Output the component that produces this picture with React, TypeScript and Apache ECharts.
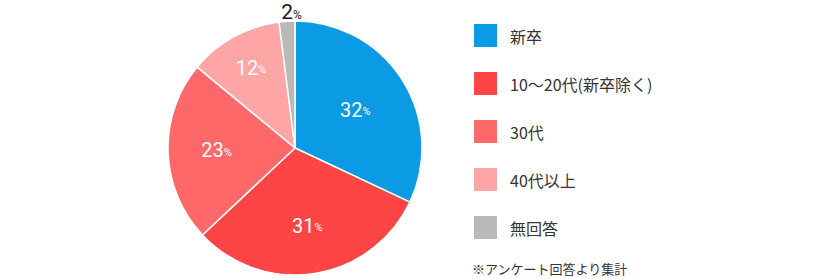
import React, { useEffect, useRef } from "react";
import * as echarts from "echarts";

const categories = ["新卒", "10〜20代(新卒除く)", "30代", "40代以上", "無回答"];
const values = [32, 31, 23, 12, 2];
const colors = ["#0a9be4", "#fe4546", "#fe6868", "#fea6a6", "#b9b9b9"];
const note = "※アンケート回答より集計";
// extra outward push of each inside label beyond the default half-radius (style)
const labelPush = [5, 12, 12, 25, 0];

const JP = "'Noto Sans CJK JP', 'Noto Sans', sans-serif";
const NUM = "Roboto, 'Noto Sans CJK JP', sans-serif";

export default function App() {
  const ref = useRef<HTMLDivElement>(null);
  useEffect(() => {
    if (!ref.current) return;
    const chart = echarts.init(ref.current, null, { renderer: "svg" });
    const last = values.length - 1;
    const total = values.reduce((a, b) => a + b, 0);
    const mids: number[] = [];
    let acc = 0;
    values.forEach((v) => {
      mids.push(((acc + v / 2) / total) * Math.PI * 2);
      acc += v;
    });
    const data = values.map((v, i) => {
      const item: any = { name: categories[i], value: v, itemStyle: { color: colors[i] } };
      if (i === last) {
        item.label = {
          position: "outside",
          rich: {
            v: { fontSize: 21, color: "#1a1a1a", fontFamily: NUM },
            p: { fontSize: 12, color: "#1a1a1a", fontFamily: NUM, padding: [5, 0, 0, 0] },
          },
        };
        item.labelLine = { show: false, length: 4, length2: 0 };
      }
      return item;
    });
    chart.setOption({
      animation: false,
      legend: {
        orient: "vertical",
        left: 472,
        top: 22,
        padding: 0,
        itemWidth: 25,
        itemHeight: 25,
        itemGap: 21,
        icon: "rect",
        selectedMode: false,
        data: categories,
        textStyle: { fontSize: 16, color: "#333", fontFamily: JP, padding: [0, 0, 0, 7] },
      },
      graphic: [
        {
          type: "text",
          left: 472,
          top: 262,
          style: { text: note, fontSize: 13, fill: "#333", fontFamily: JP },
        },
      ],
      series: [
        {
          type: "pie",
          center: [295, 148],
          radius: 127,
          startAngle: 90,
          clockwise: true,
          avoidLabelOverlap: false,
          itemStyle: { borderColor: "#fff", borderWidth: 1.5 },
          label: {
            show: true,
            position: "inside",
            formatter: "{v|{c}}{p|%}",
            rich: {
              v: { fontSize: 20, color: "#fff", fontFamily: NUM },
              p: { fontSize: 11, color: "#fff", fontFamily: NUM, padding: [4, 0, 0, 0] },
            },
          },
          labelLayout: (params: any) => {
            const i = params.dataIndex;
            if (i === last) return { dx: 20, dy: -5 };
            const a = mids[i];
            const p = labelPush[i];
            return { dx: p * Math.sin(a), dy: -p * Math.cos(a) };
          },
          labelLine: { show: false },
          emphasis: { disabled: true },
          data,
        },
      ],
    });
    return () => chart.dispose();
  }, []);
  return (
    <div
      ref={ref}
      style={{ position: "absolute", left: 0, top: 0, width: 820, height: 279 }}
    />
  );
}
